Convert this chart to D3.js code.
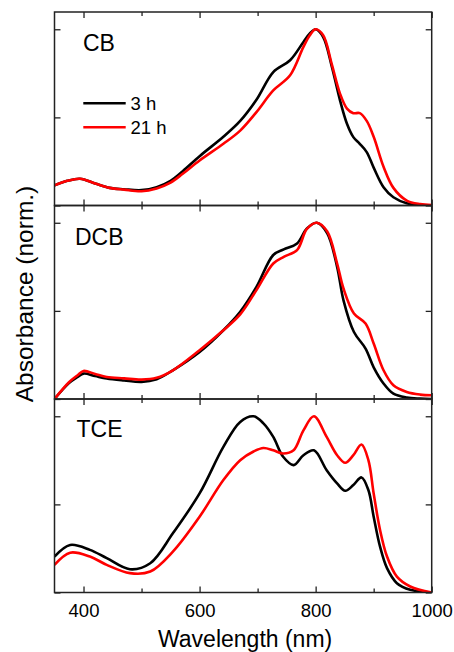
<!DOCTYPE html>
<html>
<head>
<meta charset="utf-8">
<script src="https://cdn.jsdelivr.net/npm/d3@7"></script>
<style>
  body { margin: 0; background: #fff; }
  text { font-family: "Liberation Sans", Arial, sans-serif; fill: #000; }
</style>
</head>
<body>
<script>
// panel names and legend
const panels = ['CB', 'DCB', 'TCE'];
const series = ['3 h', '21 h'];
const colors = ['#000000', '#ff0000'];
const xTicks = [400, 600, 800, 1000];
const xMinor = [500, 700, 900];
const yTicks = [0, 0.5, 1];

// CB
const cbWl  = [350, 372, 394, 420, 445, 470, 500, 526, 550, 571, 600, 641, 670, 698, 727, 756, 779, 790, 800, 813, 828, 842, 854, 865, 876, 888, 900, 917, 934, 957, 980, 1000];
const cb3h  = [0.114, 0.140, 0.152, 0.125, 0.100, 0.092, 0.087, 0.104, 0.140, 0.195, 0.280, 0.390, 0.480, 0.600, 0.757, 0.824, 0.928, 0.976, 1.000, 0.956, 0.786, 0.597, 0.464, 0.388, 0.350, 0.303, 0.215, 0.104, 0.047, 0.013, 0.003, 0.000];
const cb21h = [0.114, 0.140, 0.152, 0.125, 0.100, 0.090, 0.081, 0.097, 0.130, 0.180, 0.255, 0.350, 0.425, 0.530, 0.653, 0.739, 0.900, 0.966, 1.000, 0.966, 0.800, 0.635, 0.550, 0.524, 0.524, 0.480, 0.390, 0.220, 0.100, 0.028, 0.008, 0.003];

// DCB
const dcbWl  = [350, 375, 390, 400, 420, 440, 470, 500, 526, 554, 600, 641, 670, 698, 727, 745, 768, 785, 802, 820, 837, 848, 866, 886, 900, 917, 934, 957, 980, 1000];
const dcb3h  = [0.000, 0.090, 0.125, 0.144, 0.130, 0.116, 0.105, 0.097, 0.112, 0.163, 0.267, 0.390, 0.495, 0.636, 0.817, 0.849, 0.883, 0.968, 1.000, 0.940, 0.750, 0.560, 0.380, 0.286, 0.180, 0.088, 0.030, 0.008, 0.002, 0.000];
const dcb21h = [0.000, 0.095, 0.135, 0.159, 0.142, 0.125, 0.117, 0.110, 0.120, 0.163, 0.277, 0.390, 0.480, 0.618, 0.769, 0.807, 0.845, 0.965, 1.000, 0.950, 0.769, 0.627, 0.485, 0.428, 0.315, 0.163, 0.078, 0.040, 0.025, 0.021];

// TCE
const tceWl  = [350, 377, 411, 440, 480, 515, 554, 600, 641, 670, 693, 710, 727, 744, 762, 779, 797, 819, 837, 851, 865, 879, 891, 900, 911, 923, 940, 963, 1000];
const tce3h  = [0.204, 0.270, 0.242, 0.195, 0.132, 0.166, 0.336, 0.562, 0.826, 0.968, 1.000, 0.960, 0.883, 0.770, 0.723, 0.779, 0.807, 0.694, 0.619, 0.577, 0.610, 0.653, 0.580, 0.430, 0.260, 0.138, 0.053, 0.015, 0.000];
const tce21h = [0.157, 0.226, 0.204, 0.157, 0.110, 0.119, 0.232, 0.430, 0.638, 0.751, 0.800, 0.820, 0.807, 0.789, 0.807, 0.920, 1.000, 0.883, 0.779, 0.736, 0.779, 0.840, 0.750, 0.562, 0.355, 0.204, 0.090, 0.034, 0.000];

const wls = [cbWl, dcbWl, tceWl];
const vals = [[cb3h, cb21h], [dcb3h, dcb21h], [tce3h, tce21h]];

let width = 454;
let height = 652;
let left = 54.5, right = 431.7, marginTop = 12, panelH = 193.5;

const svg = d3.select('body')
    .append('svg')
    .attr('width', width)
    .attr('height', height);

let x = d3.scaleLinear().domain([350, 1000]).range([left, right]);

panels.forEach((name, i) => {
    let y0 = marginTop + i * panelH;
    let y = d3.scaleLinear().domain([0, 1.098]).range([y0 + panelH, y0]);
    let g = svg.append('g');

    g.append('clipPath').attr('id', 'clip' + i)
        .append('rect')
        .attr('x', left).attr('y', y0)
        .attr('width', right - left).attr('height', panelH);

    let line = d3.line()
        .x(d => x(d[0]))
        .y(d => y(d[1]))
        .curve(d3.curveCatmullRom.alpha(0.5));

    // 21 h drawn last so red sits on top
    vals[i].forEach((v, k) => {
        g.append('path')
            .datum(wls[i].map((w, j) => [w, v[j]]))
            .attr('clip-path', 'url(#clip' + i + ')')
            .attr('fill', 'none')
            .attr('stroke', colors[k])
            .attr('stroke-width', 2.6)
            .attr('stroke-linejoin', 'round')
            .attr('d', line);
    });

    // ticks, all pointing inward
    let bottomAxis = g.append('g')
        .attr('transform', `translate(0,${y0 + panelH})`)
        .call(d3.axisBottom(x).tickValues(xTicks).tickSize(-6).tickPadding(11)
            .tickFormat(i === 2 ? d3.format('d') : ''));
    g.append('g')
        .attr('transform', `translate(0,${y0 + panelH})`)
        .call(d3.axisBottom(x).tickValues(xMinor).tickSize(-4).tickFormat(''));
    g.append('g')
        .attr('transform', `translate(0,${y0})`)
        .call(d3.axisTop(x).tickValues(xTicks).tickSize(-6).tickFormat(''));
    g.append('g')
        .attr('transform', `translate(0,${y0})`)
        .call(d3.axisTop(x).tickValues(xMinor).tickSize(-4).tickFormat(''));
    g.append('g')
        .attr('transform', `translate(${left},0)`)
        .call(d3.axisLeft(y).tickValues(yTicks).tickSize(-6).tickFormat(''));
    g.append('g')
        .attr('transform', `translate(${right},0)`)
        .call(d3.axisRight(y).tickValues(yTicks).tickSize(-6).tickFormat(''));

    g.selectAll('.domain').remove();
    g.selectAll('.tick line').attr('stroke', '#222').attr('stroke-width', 1.3);
    bottomAxis.selectAll('text')
        .attr('font-size', '18.5px')
        .attr('font-family', '"Liberation Sans", Arial, sans-serif')
        .attr('fill', '#000');

    g.append('rect')
        .attr('x', left).attr('y', y0)
        .attr('width', right - left).attr('height', panelH)
        .attr('fill', 'none')
        .attr('stroke', '#222')
        .attr('stroke-width', 1.5);

    g.append('text')
        .attr('x', [83, 75, 76.5][i])
        .attr('y', y0 + [38.7, 39.5, 38.3][i])
        .attr('font-size', '23px')
        .text(name);
});

// legend
let legend = svg.append('g');
series.forEach((s, k) => {
    let ly = 103.3 + k * 24;
    legend.append('line')
        .attr('x1', 83.3).attr('x2', 125.7)
        .attr('y1', ly).attr('y2', ly)
        .attr('stroke', colors[k])
        .attr('stroke-width', 2.6);
    legend.append('text')
        .attr('x', 130.5)
        .attr('y', ly + 6.5)
        .attr('font-size', '18.5px')
        .text(s);
});

// axis titles
svg.append('text')
    .attr('x', (left + right) / 2 + 2)
    .attr('y', 647)
    .attr('text-anchor', 'middle')
    .attr('font-size', '23px')
    .text('Wavelength (nm)');

svg.append('text')
    .attr('transform', 'translate(32.5,294) rotate(-90)')
    .attr('text-anchor', 'middle')
    .attr('font-size', '24.5px')
    .text('Absorbance (norm.)');
</script>
</body>
</html>
